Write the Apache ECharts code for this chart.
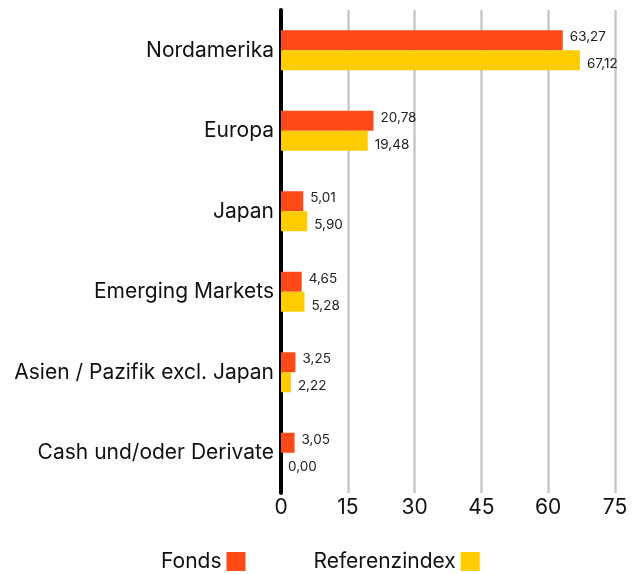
<!DOCTYPE html>
<html><head><meta charset="utf-8">
<script src="https://cdn.jsdelivr.net/npm/echarts@6/dist/echarts.min.js"></script>
<style>html,body{margin:0;padding:0;background:#fff}#c{width:641px;height:574px}</style>
</head><body><div id="c"></div>
<script>
var categories = ['Nordamerika','Europa','Japan','Emerging Markets','Asien / Pazifik excl. Japan','Cash und/oder Derivate'];
var fonds = [63.27, 20.78, 5.01, 4.65, 3.25, 3.05];
var referenz = [67.12, 19.48, 5.90, 5.28, 2.22, 0.00];
var xTicks = [0, 15, 30, 45, 60, 75];

var FONT = 'Inter';
var chart = echarts.init(document.getElementById('c'), null, {renderer:'canvas'});
function fmt(p){ return p.value.toFixed(2).replace('.', ','); }
chart.setOption({
  animation:false,
  textStyle:{fontFamily:FONT},
  grid:{left:281, right:26, top:10, bottom:81, containLabel:false},
  xAxis:{type:'value', min:xTicks[0], max:xTicks[xTicks.length-1], interval:15,
    axisLine:{show:false}, axisTick:{show:false},
    axisLabel:{fontSize:21, color:'#111', fontFamily:FONT, margin:4},
    splitLine:{show:true, lineStyle:{color:'#c8c8c8', width:2.5}}},
  yAxis:{type:'category', data:categories, inverse:true,
    axisLine:{show:true, lineStyle:{color:'#000', width:4}}, axisTick:{show:false},
    axisLabel:{fontSize:21, color:'#111', fontFamily:FONT, margin:7}},
  legend:{top:546, left:156, itemWidth:19, itemHeight:19, itemGap:68, align:'right', icon:'rect',
    textStyle:{fontSize:21, color:'#111', fontFamily:FONT},
    data:['Fonds','Referenzindex']},
  series:[
    {name:'Fonds', type:'bar', data:fonds, barWidth:20, barGap:'0%', itemStyle:{color:'#FF4A17'},
     label:{show:true, position:'right', distance:7, offset:[0,-3], fontSize:13.5, color:'#222', fontFamily:FONT, formatter:fmt}},
    {name:'Referenzindex', type:'bar', data:referenz, barWidth:20, barGap:'0%', itemStyle:{color:'#FFCC00'},
     label:{show:true, position:'right', distance:7, offset:[0,4], fontSize:13.5, color:'#222', fontFamily:FONT, formatter:fmt}}
  ]
});
</script></body></html>
